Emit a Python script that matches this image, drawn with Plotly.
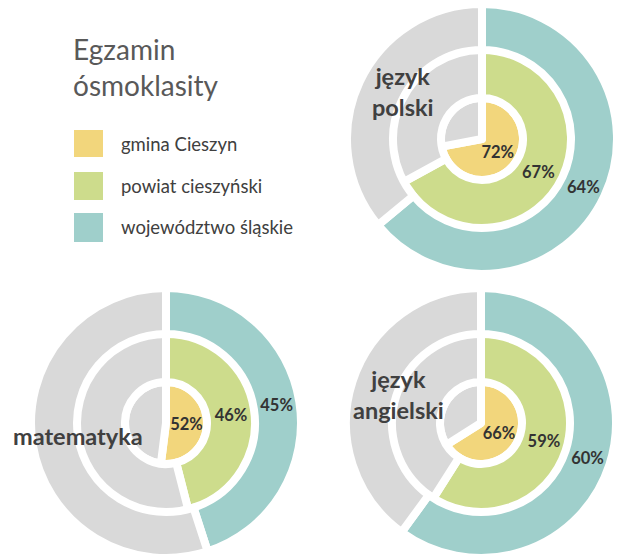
import plotly.graph_objects as go

# ---- data ----
subjects = ["język<br>polski", "matematyka", "język<br>angielski"]
series_names = ["gmina Cieszyn", "powiat cieszyński", "województwo śląskie"]
gmina = [72, 52, 66]
powiat = [67, 46, 59]
wojewodztwo = [64, 45, 60]
legend_title = "Egzamin<br>ósmoklasity"

colors = ["#F2D67C", "#CDDC8C", "#9FCFCB"]
rest_color = "#D9D9D9"

W, H = 617, 558
LW = 8  # white gap width
# visible ring radii (inner, outer) in px: inner pie -> middle ring -> outer ring
rings = [(0, 37), (45, 86), (93, 131)]
centers = [(482, 139), (166, 423), (481, 423)]


def px_x(x):
    return x / W


def px_y(y):
    return 1 - y / H


fig = go.Figure()
series = [gmina, powiat, wojewodztwo]
for si, (cx, cy) in enumerate(centers):
    for ri, (rin, rout) in enumerate(rings):
        val = series[ri][si]
        rd = rout + LW / 2
        hole = max(rin - LW / 2, 0) / rd
        x0, x1 = max(px_x(cx - rd), 0), min(px_x(cx + rd), 1)
        y0, y1 = max(px_y(cy + rd), 0), min(px_y(cy - rd), 1)
        fig.add_trace(go.Pie(
            values=[val, 100 - val],
            labels=[series_names[ri], "pozostałe"],
            text=[f"{val}%", ""],
            textinfo="text",
            textposition="inside",
            insidetextorientation="horizontal",
            textfont=dict(family="Lato", size=16.5, color="#333333", weight="bold"),
            marker=dict(colors=[colors[ri], rest_color],
                        line=dict(color="white", width=LW)),
            hole=hole,
            sort=False,
            direction="clockwise",
            rotation=0,
            domain=dict(x=[x0, x1], y=[y0, y1]),
            hoverinfo="skip",
            showlegend=False,
        ))

annotations = []
# subject labels
subject_pos = [(403, 91), (78, 436), (398, 394)]
for name, (x, y) in zip(subjects, subject_pos):
    annotations.append(dict(
        text=name, x=px_x(x), y=px_y(y), xref="paper", yref="paper",
        xanchor="center", yanchor="middle", align="center", showarrow=False,
        font=dict(family="Lato", size=23.5, color="#404040", weight="bold"),
    ))

# legend title
annotations.append(dict(
    text=legend_title, x=px_x(71), y=px_y(30), xref="paper", yref="paper",
    xanchor="left", yanchor="top", align="left", showarrow=False,
    font=dict(family="Lato", size=28, color="#595959"),
))

shapes = []
legend_rows = [(130, 157), (172, 200), (213, 242)]
for name, col, (t, b) in zip(series_names, colors, legend_rows):
    shapes.append(dict(
        type="rect", xref="paper", yref="paper",
        x0=px_x(74), x1=px_x(103), y0=px_y(b), y1=px_y(t),
        fillcolor=col, line=dict(width=0),
    ))
    annotations.append(dict(
        text=name, x=px_x(119), y=px_y((t + b) / 2), xref="paper", yref="paper",
        xanchor="left", yanchor="middle", showarrow=False,
        font=dict(family="Lato", size=18.5, color="#404040"),
    ))

fig.update_layout(
    width=W, height=H,
    margin=dict(l=0, r=0, t=0, b=0),
    paper_bgcolor="white",
    plot_bgcolor="white",
    showlegend=False,
    annotations=annotations,
    shapes=shapes,
)

fig.write_html("out.html", config={"displayModeBar": False},
               post_script="document.body.style.margin='0';")
